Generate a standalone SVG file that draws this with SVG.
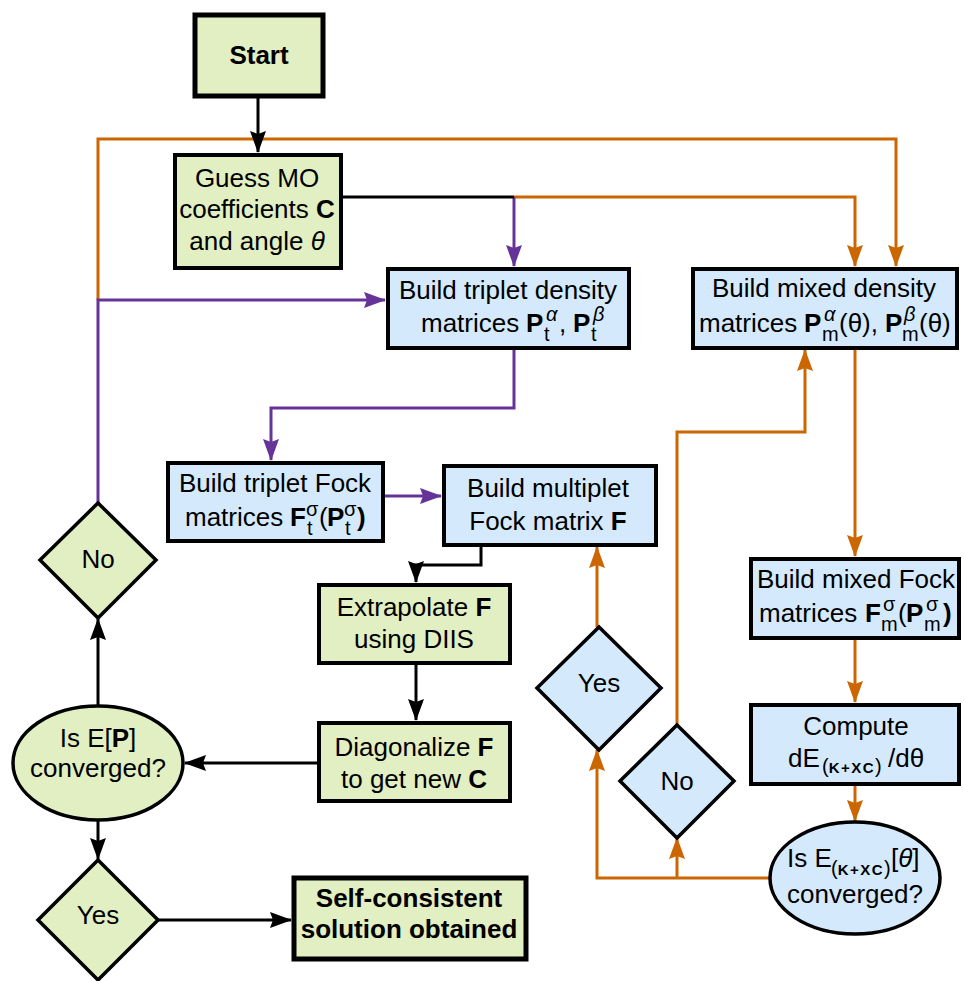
<svg xmlns="http://www.w3.org/2000/svg" width="964" height="981" viewBox="0 0 964 981">
<style>
.t{font-family:"Liberation Sans",Arial,sans-serif;font-size:26px;fill:#000}
.c{text-anchor:middle}
.b{font-weight:bold}
.i{font-style:italic}
.s{font-size:20px}
.x{font-size:15px;font-weight:bold;letter-spacing:1.5px}
.g{fill:#e2efc2;stroke:#000;stroke-width:4}
.u{fill:#d4eafc;stroke:#000;stroke-width:4}
.d{stroke-width:3.5}
.k{fill:none;stroke:#000;stroke-width:3}
.o{fill:none;stroke:#cc6600;stroke-width:3}
.p{fill:none;stroke:#663399;stroke-width:3}
</style>
<defs>
<marker id="ak" markerUnits="userSpaceOnUse" markerWidth="22" markerHeight="16" viewBox="0 0 22 16" refX="21" refY="8" orient="auto"><path d="M0,0 L22,8 L0,16 L3,8 z" fill="#000"/></marker>
<marker id="ao" markerUnits="userSpaceOnUse" markerWidth="22" markerHeight="16" viewBox="0 0 22 16" refX="21" refY="8" orient="auto"><path d="M0,0 L22,8 L0,16 L3,8 z" fill="#cc6600"/></marker>
<marker id="ap" markerUnits="userSpaceOnUse" markerWidth="22" markerHeight="16" viewBox="0 0 22 16" refX="21" refY="8" orient="auto"><path d="M0,0 L22,8 L0,16 L3,8 z" fill="#663399"/></marker>
</defs>
<g id="connectors">
<path class="o" d="M98,300 V139 H896 V266" marker-end="url(#ao)"/>
<path class="o" d="M514,197 H855 V266" marker-end="url(#ao)"/>
<path class="o" d="M855,349 V556" marker-end="url(#ao)"/>
<path class="o" d="M855,639 V702" marker-end="url(#ao)"/>
<path class="o" d="M855,785 V821" marker-end="url(#ao)"/>
<path class="o" d="M769,878 H597 V750" marker-end="url(#ao)"/>
<path class="o" d="M677,878 V838" marker-end="url(#ao)"/>
<path class="o" d="M597,627 V547" marker-end="url(#ao)"/>
<path class="o" d="M677,725 V432 H805 V350" marker-end="url(#ao)"/>
<path class="p" d="M98,503 V300 H385" marker-end="url(#ap)"/>
<path class="p" d="M514,197 V266" marker-end="url(#ap)"/>
<path class="p" d="M514,349 V408 H271 V460" marker-end="url(#ap)"/>
<path class="p" d="M384,496 H441" marker-end="url(#ap)"/>
<path class="k" d="M258,97 V152" marker-end="url(#ak)"/>
<path class="k" d="M342,197 H514"/>
<path class="k" d="M481,546 V565 H416 V582" marker-end="url(#ak)"/>
<path class="k" d="M416,664 V720" marker-end="url(#ak)"/>
<path class="k" d="M317,763 H185" marker-end="url(#ak)"/>
<path class="k" d="M98,706 V619" marker-end="url(#ak)"/>
<path class="k" d="M98,820 V859" marker-end="url(#ak)"/>
<path class="k" d="M157,920 H291" marker-end="url(#ak)"/>
</g>
<g id="start">
<rect class="g" x="195" y="15" width="128" height="81" style="stroke-width:5"/>
<text class="t c b" x="259" y="64">Start</text>
</g>
<g id="guess">
<rect class="g" x="175" y="155" width="166" height="113"/>
<text class="t c" x="257" y="187">Guess MO</text>
<text class="t c" x="257" y="218">coefficients <tspan class="b">C</tspan></text>
<text class="t c" x="257" y="250">and angle <tspan class="i">θ</tspan></text>
</g>
<g id="triplet-density">
<rect class="u" x="388" y="269" width="241" height="79"/>
<text class="t c" x="508" y="299">Build triplet density</text>
<text class="t"><tspan x="421" y="332">matrices </tspan><tspan class="b" x="526" y="332">P</tspan><tspan class="s" x="544" y="341">t</tspan><tspan class="s i" x="546" y="321">α</tspan><tspan x="559" y="332">, </tspan><tspan class="b" x="573" y="332">P</tspan><tspan class="s" x="591" y="341">t</tspan><tspan class="s i" x="593" y="321">β</tspan></text>
</g>
<g id="mixed-density">
<rect class="u" x="693" y="269" width="264" height="79"/>
<text class="t c" x="824" y="297">Build mixed density</text>
<text class="t"><tspan x="699" y="332">matrices </tspan><tspan class="b" x="804" y="332">P</tspan><tspan class="s" x="822" y="341">m</tspan><tspan class="s i" x="824" y="321">α</tspan><tspan x="839" y="332">(θ), </tspan><tspan class="b" x="885" y="332">P</tspan><tspan class="s" x="902" y="341">m</tspan><tspan class="s i" x="904" y="321">β</tspan><tspan x="919" y="332">(θ)</tspan></text>
</g>
<g id="triplet-fock">
<rect class="u" x="168" y="463" width="215" height="78"/>
<text class="t c" x="275" y="492">Build triplet Fock</text>
<text class="t"><tspan x="185" y="526">matrices </tspan><tspan class="b" x="290" y="526">F</tspan><tspan class="s" x="307" y="535">t</tspan><tspan class="s" x="306" y="516">σ</tspan><tspan x="319" y="526">(</tspan><tspan class="b" x="327" y="526">P</tspan><tspan class="s" x="345" y="535">t</tspan><tspan class="s" x="344" y="516">σ</tspan><tspan class="b" x="357" y="526">)</tspan></text>
</g>
<g id="multiplet-fock">
<rect class="u" x="444" y="466" width="212" height="79"/>
<text class="t c" x="548" y="497">Build multiplet</text>
<text class="t c" x="548" y="530">Fock matrix <tspan class="b">F</tspan></text>
</g>
<g id="extrapolate">
<rect class="g" x="319" y="585" width="191" height="78"/>
<text class="t c" x="414" y="616">Extrapolate <tspan class="b">F</tspan></text>
<text class="t c" x="414" y="648">using DIIS</text>
</g>
<g id="diagonalize">
<rect class="g" x="319" y="723" width="191" height="78"/>
<text class="t c" x="414" y="756">Diagonalize <tspan class="b">F</tspan></text>
<text class="t c" x="414" y="788">to get new <tspan class="b">C</tspan></text>
</g>
<g id="converged-p">
<ellipse class="g d" cx="98" cy="763" rx="85" ry="57"/>
<text class="t c" x="98" y="747">Is E[<tspan class="b">P</tspan>]</text>
<text class="t c" x="98" y="777">converged?</text>
</g>
<g id="no-left">
<polygon class="g d" points="98,503 156,560 98,618 40,560"/>
<text class="t c" x="98" y="568">No</text>
</g>
<g id="yes-left">
<polygon class="g d" points="98,860 158,920 98,980 38,920"/>
<text class="t c" x="98" y="924">Yes</text>
</g>
<g id="solution">
<rect class="g" x="294" y="878" width="232" height="81" style="stroke-width:5"/>
<text class="t c b" x="409" y="907">Self-consistent</text>
<text class="t c b" x="409" y="938">solution obtained</text>
</g>
<g id="mixed-fock">
<rect class="u" x="751" y="559" width="208" height="79"/>
<text class="t c" x="856" y="588">Build mixed Fock</text>
<text class="t"><tspan x="759" y="622">matrices </tspan><tspan class="b" x="865" y="622">F</tspan><tspan class="s" x="881" y="631">m</tspan><tspan class="s" x="883" y="611">σ</tspan><tspan x="898" y="622">(</tspan><tspan class="b" x="906" y="622">P</tspan><tspan class="s" x="924" y="631">m</tspan><tspan class="s" x="926" y="611">σ</tspan><tspan class="b" x="943" y="622">)</tspan></text>
</g>
<g id="compute">
<rect class="u" x="751" y="705" width="208" height="79"/>
<text class="t c" x="856" y="735">Compute</text>
<text class="t"><tspan x="788" y="767">dE</tspan><tspan class="s" x="822" y="773">(</tspan><tspan class="x">K+XC</tspan><tspan class="s">)</tspan><tspan x="888" y="767">/dθ</tspan></text>
</g>
<g id="converged-theta">
<ellipse class="u d" cx="855" cy="878" rx="85" ry="56"/>
<text class="t"><tspan x="787" y="867">Is E</tspan><tspan class="s" x="831" y="875">(</tspan><tspan class="x">K+XC</tspan><tspan class="s">)</tspan><tspan x="891" y="867">[</tspan><tspan class="i">θ</tspan><tspan>]</tspan></text>
<text class="t c" x="855" y="903">converged?</text>
</g>
<g id="yes-right">
<polygon class="u d" points="599,627 661,688 599,750 537,688"/>
<text class="t c" x="599" y="692">Yes</text>
</g>
<g id="no-right">
<polygon class="u d" points="677,725 734,781 677,838 620,781"/>
<text class="t c" x="677" y="790">No</text>
</g>
</svg>
